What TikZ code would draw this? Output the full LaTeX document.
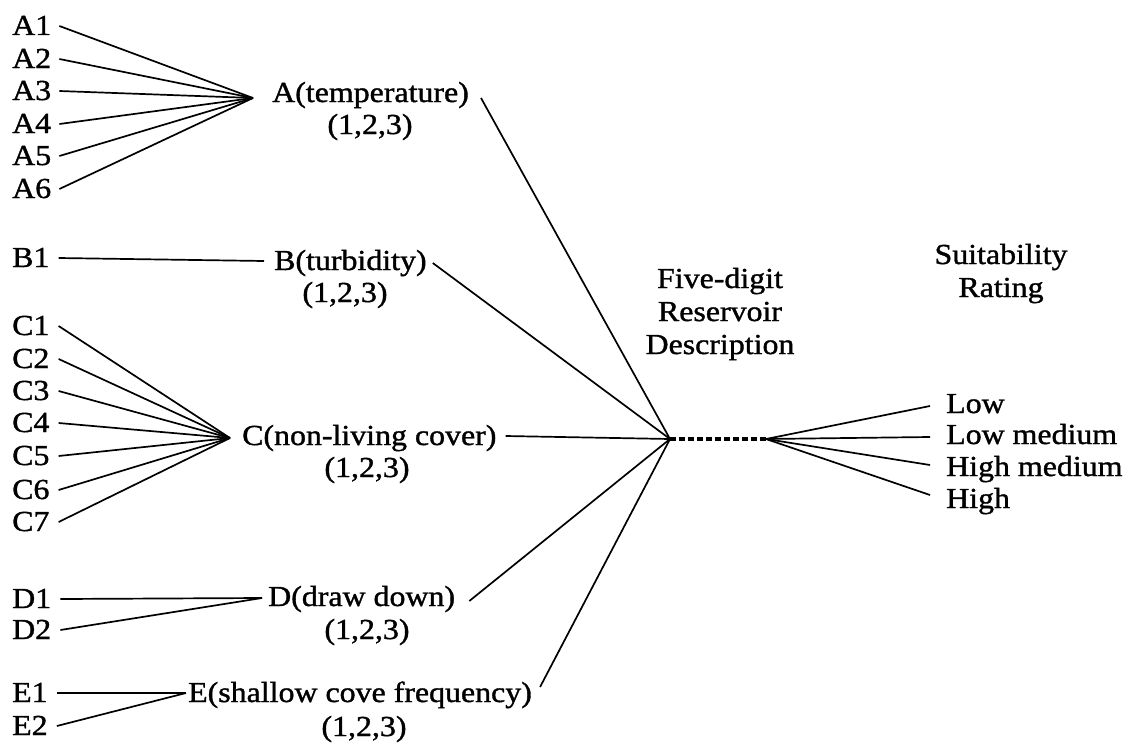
\documentclass[tikz,border=0pt]{standalone}
\usepackage{fontspec}
\setmainfont[FakeStretch=1.1,FakeBold=1.2]{Liberation Serif}
\begin{document}
\begin{tikzpicture}[x=1pt,y=-1pt,
  lbl/.style={font=\fontsize{29}{33}\selectfont, inner sep=0pt, text height=19pt, text depth=1pt},
  leftlbl/.style={lbl, anchor=west},
  cen/.style={lbl, anchor=center},
  link/.style={line width=1.7pt},
  dash link/.style={line width=3.2pt, dash pattern=on 6pt off 3pt}]
\useasboundingbox (0,0) rectangle (1131,752);
% ---- A group
\foreach \i/\y in {1/26,2/59,3/91,4/124,5/156,6/189}{
  \node[leftlbl] (A\i) at (12,\y) {A\i};
}
\coordinate (hubA) at (253,98);
\foreach \i in {1,...,6}{ \draw[link] ([xshift=8pt]A\i.east) -- (hubA); }
\node[leftlbl] (At) at (272,93) {A(temperature)};
\node[cen] (An) at (370,125) {(1,2,3)};
% ---- B group
\node[leftlbl] (B1) at (12,258) {B1};
\node[leftlbl] (Bt) at (274,261) {B(turbidity)};
\node[cen] (Bn) at (345,293) {(1,2,3)};
\draw[link] ([xshift=9pt]B1.east) -- ([xshift=-10pt]Bt.west);
% ---- C group
\foreach \i/\y in {1/326,2/359,3/391,4/423,5/456,6/490,7/522}{
  \node[leftlbl] (C\i) at (12,\y) {C\i};
}
\coordinate (hubC) at (230,438);
\foreach \i in {1,...,7}{ \draw[link] ([xshift=9pt]C\i.east) -- (hubC); }
\node[leftlbl] (Ct) at (242,436) {C(non-living cover)};
\node[cen] (Cn) at (367,468) {(1,2,3)};
% ---- D group
\node[leftlbl] (D1) at (12,599) {D1};
\node[leftlbl] (D2) at (12,630) {D2};
\coordinate (hubD) at (262,598);
\draw[link] ([xshift=9pt]D1.east) -- (hubD);
\draw[link] ([xshift=9pt]D2.east) -- (hubD);
\node[leftlbl] (Dt) at (268,597) {D(draw down)};
\node[cen] (Dn) at (367,630) {(1,2,3)};
% ---- E group
\node[leftlbl] (E1) at (12,693) {E1};
\node[leftlbl] (E2) at (12,726) {E2};
\coordinate (hubE) at (186,693);
\draw[link] ([xshift=9pt]E1.east) -- (hubE);
\draw[link] ([xshift=9pt]E2.east) -- (hubE);
\node[leftlbl] (Et) at (188,693) {E(shallow cove frequency)};
\node[cen] (En) at (364,727) {(1,2,3)};
% ---- centre
\coordinate (hub) at (670,439);
\coordinate (rhub) at (766,439);
\draw[link] ([shift={(12pt,-5pt)}]At.east) -- (hub);
\draw[link] ([shift={(6pt,-2pt)}]Bt.east) -- (hub);
\draw[link] ([xshift=9pt]Ct.east) -- (hub);
\draw[link] ([shift={(14pt,-4pt)}]Dt.east) -- (hub);
\draw[link] ([shift={(8pt,6pt)}]Et.east) -- (hub);
\draw[dash link] (hub) -- (rhub);
\node[lbl, align=center] (five) at (720,345) {Five-digit\\Reservoir\\Description};
\node[lbl, align=center] (suit) at (1001,288) {Suitability\\Rating};
% ---- ratings
\foreach \n/\t/\y in {low/Low/404,lowm/Low medium/435,highm/High medium/467,high/High/499}{
  \node[leftlbl] (\n) at (946,\y) {\t};
}
\draw[link] (rhub) -- ([xshift=-16pt,yshift=-2pt]low.west);
\draw[link] (rhub) -- ([xshift=-16pt,yshift=-2pt]lowm.west);
\draw[link] (rhub) -- ([xshift=-16pt,yshift=2pt]highm.west);
\draw[link] (rhub) -- ([xshift=-16pt,yshift=4pt]high.west);
\end{tikzpicture}
\end{document}
